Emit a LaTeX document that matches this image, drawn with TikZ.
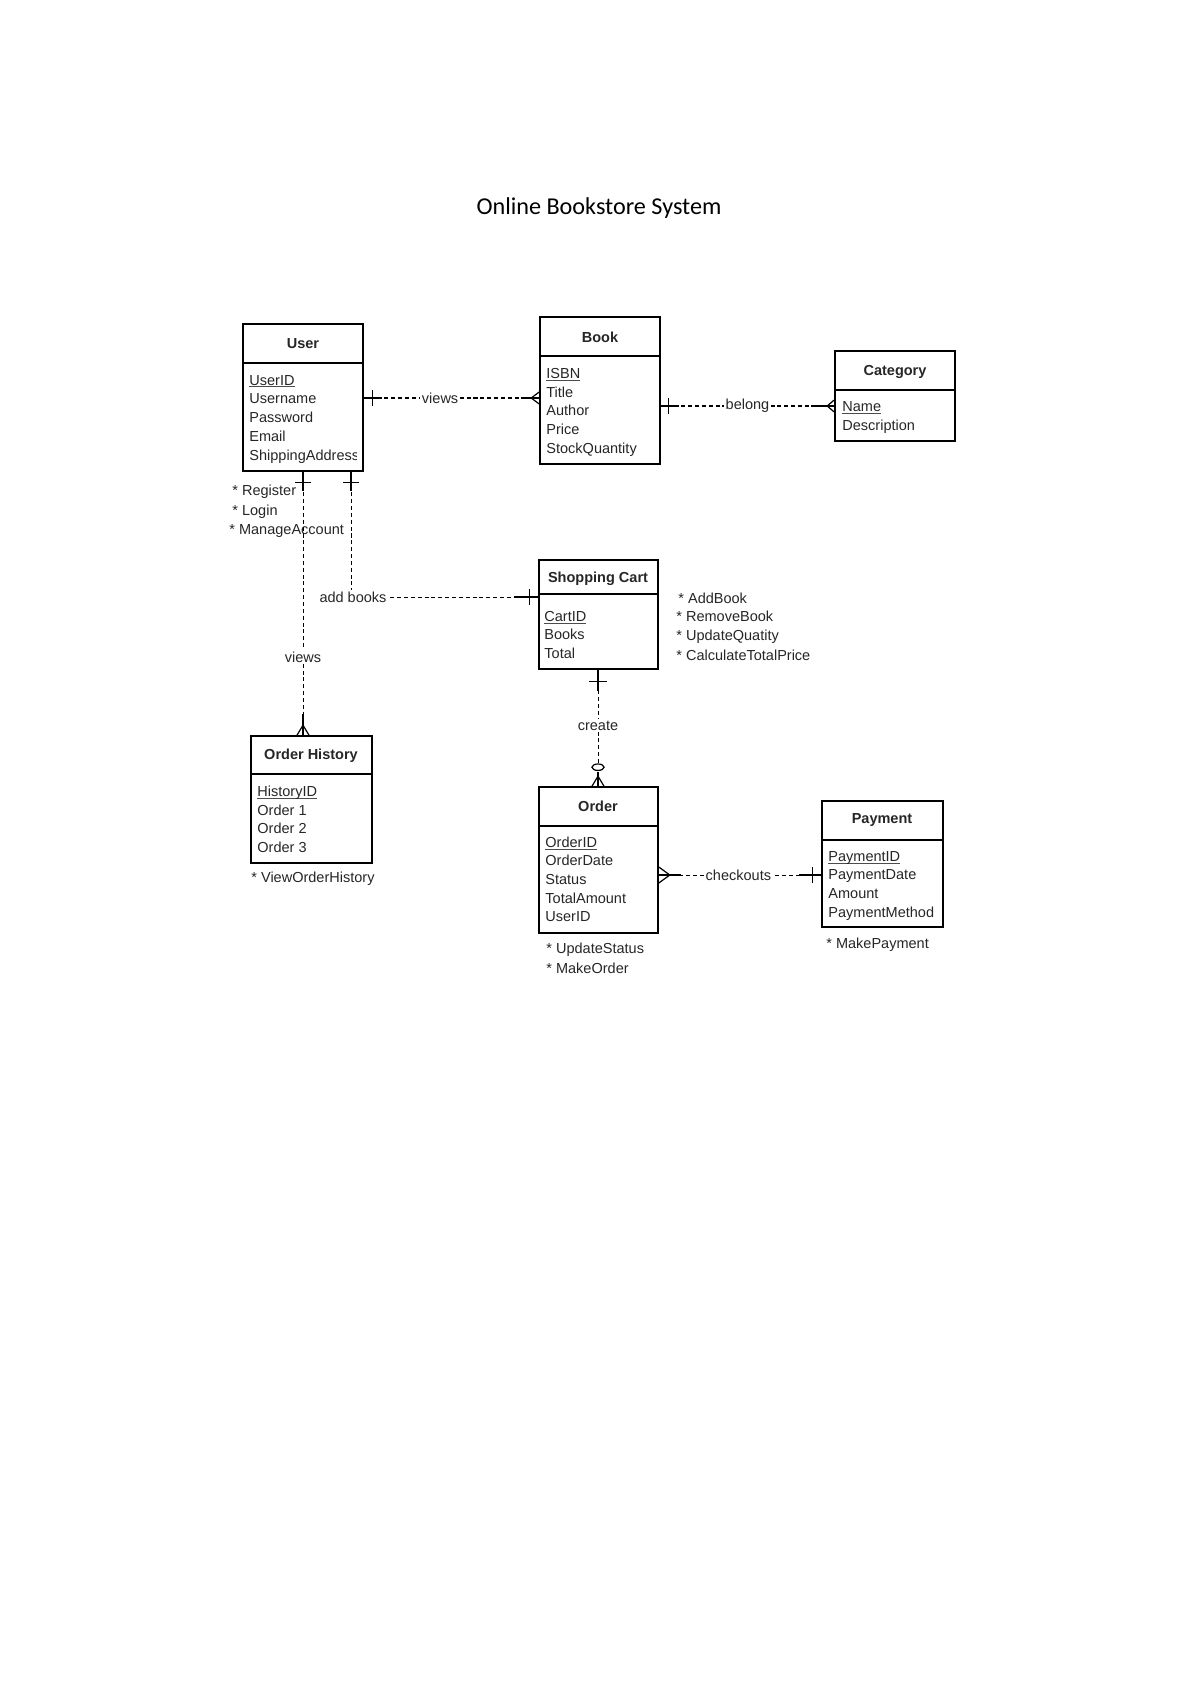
\documentclass[tikz,border=0pt]{standalone}
\usepackage{fontspec}
\setmainfont{Liberation Sans}
\newfontfamily\titlefont{Carlito}
\usetikzlibrary{fit,calc}
\newcommand\ulx[1]{\setbox0\hbox{#1}\rlap{\color{black!70}\rule[-1.1pt]{\wd0}{0.4pt}}\box0}
\begin{document}
\begin{tikzpicture}[x=0.4961pt,y=-0.4961pt,
  ebox/.style={draw=black, line width=0.8pt, inner sep=0pt},
  sepline/.style={line width=0.8pt},
  head/.style={font=\fontsize{7.2}{8.6}\selectfont\bfseries, inner sep=0pt, text=black!85},
  attr/.style={font=\fontsize{7.2}{8.6}\selectfont, anchor=base west, inner sep=0pt, text=black!85},
  rel/.style={line width=0.5pt, dash pattern=on 2pt off 1.4pt},
  conn/.style={line width=0.6pt},
  lbl/.style={font=\fontsize{7.2}{8.6}\selectfont, fill=white, inner sep=1pt, text=black!85}
]
\useasboundingbox (0,0) rectangle (1200,1696);

% Title
\node[font=\titlefont\fontsize{12}{14}\selectfont] (title) at (599,208) {Online Bookstore System};

% Entities
\node[ebox, fit={(243,324) (363,471)}] (user) {};
\node[ebox, fit={(540,317) (660,464)}] (book) {};
\node[ebox, fit={(835,351) (955,441)}] (cat) {};
\node[ebox, fit={(539,560) (658,669)}] (cart) {};
\node[ebox, fit={(251,736) (372,863)}] (oh) {};
\node[ebox, fit={(539,787) (658,933)}] (order) {};
\node[ebox, fit={(822,801) (943,927)}] (pay) {};

% header separators
\draw[sepline] (user.west |- 0,363) -- (user.east |- 0,363);
\draw[sepline] (book.west |- 0,356) -- (book.east |- 0,356);
\draw[sepline] (cat.west |- 0,390) -- (cat.east |- 0,390);
\draw[sepline] (cart.west |- 0,594) -- (cart.east |- 0,594);
\draw[sepline] (oh.west |- 0,774) -- (oh.east |- 0,774);
\draw[sepline] (order.west |- 0,826) -- (order.east |- 0,826);
\draw[sepline] (pay.west |- 0,840) -- (pay.east |- 0,840);

% headers
\node[head] (hUser) at (303,344) {User};
\node[head] (hBook) at (600,337) {Book};
\node[head] (hCat) at (895,372) {Category};
\node[head] (hCart) at (598,579) {Shopping Cart};
\node[head] (hOH) at (311,756) {Order History};
\node[head] (hOrder) at (598,806) {Order};
\node[head] (hPay) at (882,820) {Payment};

% attributes: User
\node[attr] (u1) at (249,385) {\ulx{UserID}};
\node[attr] (u2) at (249,403.5) {Username};
\node[attr] (u3) at (249,422.5) {Password};
\node[attr] (u4) at (249,441) {Email};
\begin{scope}
\clip (243,440) rectangle (356,470);
\node[attr] (u5) at (249,460) {ShippingAddress};
\end{scope}

% Book
\node[attr] (b1) at (546,378.5) {\ulx{ISBN}};
\node[attr] (b2) at (546,397.5) {Title};
\node[attr] (b3) at (546,415.5) {Author};
\node[attr] (b4) at (546,434.5) {Price};
\node[attr] (b5) at (546,453.5) {StockQuantity};

% Category
\node[attr] (c1) at (842,411.5) {\ulx{Name}};
\node[attr] (c2) at (842,430.5) {Description};

% Shopping Cart
\node[attr] (s1) at (544,621.5) {\ulx{CartID}};
\node[attr] (s2) at (544,639.5) {Books};
\node[attr] (s3) at (544,658.5) {Total};

% Order History
\node[attr] (o1) at (257,796.5) {\ulx{HistoryID}};
\node[attr] (o2) at (257,815.5) {Order 1};
\node[attr] (o3) at (257,833.5) {Order 2};
\node[attr] (o4) at (257,852.5) {Order 3};

% Order
\node[attr] (r1) at (545,847.5) {\ulx{OrderID}};
\node[attr] (r2) at (545,865.5) {OrderDate};
\node[attr] (r3) at (545,884.5) {Status};
\node[attr] (r4) at (545,903.5) {TotalAmount};
\node[attr] (r5) at (545,921.5) {UserID};

% Payment
\node[attr] (p1) at (828,861.5) {\ulx{PaymentID}};
\node[attr] (p2) at (828,879.5) {PaymentDate};
\node[attr] (p3) at (828,898.5) {Amount};
\node[attr] (p4) at (828,917.5) {PaymentMethod};

% methods
\node[attr] (m1) at (232,495.5) {* Register};
\node[attr] (m2) at (232,515.5) {* Login};
\node[attr] (m3) at (229,534.5) {* ManageAccount};
\node[attr] (m4) at (678,603.5) {* AddBook};
\node[attr] (m5) at (676,621.5) {* RemoveBook};
\node[attr] (m6) at (676,640.5) {* UpdateQuatity};
\node[attr] (m7) at (676,660.5) {* CalculateTotalPrice};
\node[attr] (m8) at (251,882.5) {* ViewOrderHistory};
\node[attr] (m9) at (546,953.5) {* UpdateStatus};
\node[attr] (m10) at (546,973.5) {* MakeOrder};
\node[attr] (m11) at (826,948.5) {* MakePayment};

% ---- Connectors ----
% User - Book : views
\coordinate (ub1) at (user.east |- 0,398);
\coordinate (ub2) at (book.west |- 0,398);
\draw[rel] (ub1) -- (ub2) node[lbl, pos=0.435] (lviews1) {views};
\draw[conn] (ub1) -- ++(17,0);
\draw[conn] ($(ub1)+(9,-8)$) -- ++(0,16);
\draw[conn] ($(ub2)+(-14,0)$) -- (ub2);
\draw[conn] ($(ub2)+(-8,0)$) -- ++(8,-6);
\draw[conn] ($(ub2)+(-8,0)$) -- ++(8,6);

% Book - Category : belong
\coordinate (bc1) at (book.east |- 0,406);
\coordinate (bc2) at (cat.west |- 0,406);
\draw[rel] (bc1) -- (bc2) node[lbl, pos=0.5] (lbelong) {belong};
\draw[conn] (bc1) -- ++(17,0);
\draw[conn] ($(bc1)+(8,-8)$) -- ++(0,16);
\draw[conn] ($(bc2)+(-23,0)$) -- (bc2);
\draw[conn] ($(bc2)+(-7,0)$) -- ++(7,-6);
\draw[conn] ($(bc2)+(-7,0)$) -- ++(7,6);

% User - Order History : views
\coordinate (uo1) at (user.south -| 303,0);
\coordinate (uo2) at (oh.north -| 303,0);
\draw[rel] (uo1) -- (uo2) node[lbl, pos=0.703] (lviews2) {views};
\draw[conn] (uo1) -- ++(0,19);
\draw[conn] ($(uo1)+(-8,11)$) -- ++(16,0);
\draw[conn] ($(uo2)+(0,-21)$) -- (uo2);
\draw[conn] ($(uo2)+(0,-10)$) -- ++(-6,10);
\draw[conn] ($(uo2)+(0,-10)$) -- ++(6,10);

% User - Shopping Cart : add books
\coordinate (us1) at (user.south -| 351,0);
\coordinate (us2) at (cart.west |- 0,597);
\draw[rel] (us1) |- (us2);
\node[lbl] (laddbooks) at (353,597) {add books};
\draw[conn] (us1) -- ++(0,19);
\draw[conn] ($(us1)+(-8,11)$) -- ++(16,0);
\draw[conn] ($(us2)+(-24,0)$) -- (us2);
\draw[conn] ($(us2)+(-9,-8)$) -- ++(0,16);

% Shopping Cart - Order : create
\coordinate (co1) at (cart.south -| 598,0);
\coordinate (co2) at (order.north -| 598,0);
\draw[rel] (co1) -- (co2) node[lbl, pos=0.48] (lcreate) {create};
\draw[conn] (co1) -- ++(0,21);
\draw[conn] ($(co1)+(-9,12)$) -- ++(18,0);
\draw[conn] ($(co2)+(0,-14)$) -- (co2);
\draw[conn, fill=white] ($(co2)+(0,-19)$) ellipse [x radius=3pt, y radius=1.6pt];
\draw[conn] ($(co2)+(0,-10)$) -- ++(-6,10);
\draw[conn] ($(co2)+(0,-10)$) -- ++(6,10);

% Order - Payment : checkouts
\coordinate (op1) at (order.east |- 0,875);
\coordinate (op2) at (pay.west |- 0,875);
\draw[rel] (op1) -- (op2) node[lbl, pos=0.49] (lcheck) {checkouts};
\draw[conn] (op1) -- ++(22,0);
\draw[conn] ($(op1)+(11,0)$) -- ++(-11,-8);
\draw[conn] ($(op1)+(11,0)$) -- ++(-11,8);
\draw[conn] ($(op2)+(-22,0)$) -- (op2);
\draw[conn] ($(op2)+(-9,-8)$) -- ++(0,16);

\end{tikzpicture}
\end{document}
